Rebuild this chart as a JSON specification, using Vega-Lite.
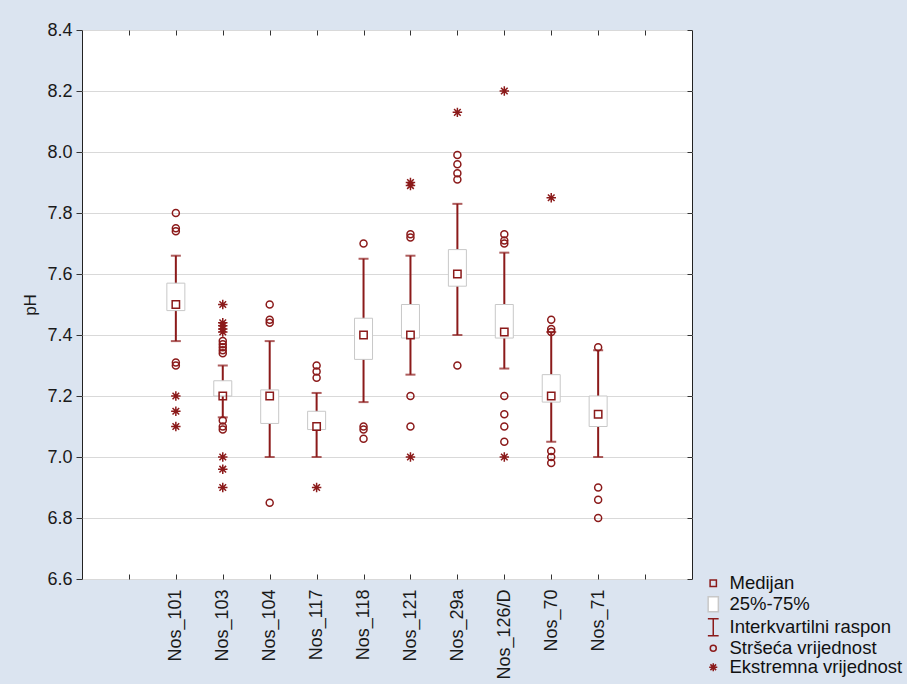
{
  "$schema": "https://vega.github.io/schema/vega-lite/v6.json",
  "autosize": {"type": "none"},
  "width": 610,
  "height": 549,
  "padding": {"left": 82, "top": 30, "right": 215, "bottom": 105},
  "background": "#dbe4f0",
  "config": {
    "view": {"stroke": "#222222", "strokeWidth": 1, "fill": "white"},
    "font": "Liberation Sans",
    "axis": {"labelFont": "Liberation Sans", "titleFont": "Liberation Sans", "labelColor": "#1a1a1a", "titleColor": "#1a1a1a", "tickColor": "#333333", "domain": false},
    "legend": {"orient": "none", "legendX": 622, "legendY": 544, "labelLimit": 0}
  },
  "datasets": {
    "stats": [
      {"site": "Nos_101", "lo": 7.38, "q1": 7.48, "med": 7.50, "q3": 7.57, "hi": 7.66},
      {"site": "Nos_103", "lo": 7.13, "q1": 7.20, "med": 7.20, "q3": 7.25, "hi": 7.30},
      {"site": "Nos_104", "lo": 7.00, "q1": 7.11, "med": 7.20, "q3": 7.22, "hi": 7.38},
      {"site": "Nos_117", "lo": 7.00, "q1": 7.09, "med": 7.10, "q3": 7.15, "hi": 7.21},
      {"site": "Nos_118", "lo": 7.18, "q1": 7.32, "med": 7.40, "q3": 7.455, "hi": 7.65},
      {"site": "Nos_121", "lo": 7.27, "q1": 7.39, "med": 7.40, "q3": 7.50, "hi": 7.66},
      {"site": "Nos_29a", "lo": 7.40, "q1": 7.56, "med": 7.60, "q3": 7.68, "hi": 7.83},
      {"site": "Nos_126/D", "lo": 7.29, "q1": 7.39, "med": 7.41, "q3": 7.50, "hi": 7.67},
      {"site": "Nos_70", "lo": 7.05, "q1": 7.18, "med": 7.20, "q3": 7.27, "hi": 7.41},
      {"site": "Nos_71", "lo": 7.00, "q1": 7.10, "med": 7.14, "q3": 7.20, "hi": 7.35}
    ],
    "pts": [
      {"site": "Nos_101", "v": 7.50, "kind": "Medijan"},
      {"site": "Nos_103", "v": 7.20, "kind": "Medijan"},
      {"site": "Nos_104", "v": 7.20, "kind": "Medijan"},
      {"site": "Nos_117", "v": 7.10, "kind": "Medijan"},
      {"site": "Nos_118", "v": 7.40, "kind": "Medijan"},
      {"site": "Nos_121", "v": 7.40, "kind": "Medijan"},
      {"site": "Nos_29a", "v": 7.60, "kind": "Medijan"},
      {"site": "Nos_126/D", "v": 7.41, "kind": "Medijan"},
      {"site": "Nos_70", "v": 7.20, "kind": "Medijan"},
      {"site": "Nos_71", "v": 7.14, "kind": "Medijan"},
      {"site": "Nos_101", "v": null, "kind": "25%-75%"},
      {"site": "Nos_101", "v": null, "kind": "Interkvartilni raspon"},
      {"site": "Nos_101", "v": 7.80, "kind": "Stršeća vrijednost"},
      {"site": "Nos_101", "v": 7.75, "kind": "Stršeća vrijednost"},
      {"site": "Nos_101", "v": 7.74, "kind": "Stršeća vrijednost"},
      {"site": "Nos_101", "v": 7.31, "kind": "Stršeća vrijednost"},
      {"site": "Nos_101", "v": 7.30, "kind": "Stršeća vrijednost"},
      {"site": "Nos_101", "v": 7.20, "kind": "Ekstremna vrijednost"},
      {"site": "Nos_101", "v": 7.15, "kind": "Ekstremna vrijednost"},
      {"site": "Nos_101", "v": 7.10, "kind": "Ekstremna vrijednost"},
      {"site": "Nos_103", "v": 7.38, "kind": "Stršeća vrijednost"},
      {"site": "Nos_103", "v": 7.37, "kind": "Stršeća vrijednost"},
      {"site": "Nos_103", "v": 7.36, "kind": "Stršeća vrijednost"},
      {"site": "Nos_103", "v": 7.35, "kind": "Stršeća vrijednost"},
      {"site": "Nos_103", "v": 7.34, "kind": "Stršeća vrijednost"},
      {"site": "Nos_103", "v": 7.12, "kind": "Stršeća vrijednost"},
      {"site": "Nos_103", "v": 7.10, "kind": "Stršeća vrijednost"},
      {"site": "Nos_103", "v": 7.09, "kind": "Stršeća vrijednost"},
      {"site": "Nos_103", "v": 7.50, "kind": "Ekstremna vrijednost"},
      {"site": "Nos_103", "v": 7.44, "kind": "Ekstremna vrijednost"},
      {"site": "Nos_103", "v": 7.43, "kind": "Ekstremna vrijednost"},
      {"site": "Nos_103", "v": 7.42, "kind": "Ekstremna vrijednost"},
      {"site": "Nos_103", "v": 7.41, "kind": "Ekstremna vrijednost"},
      {"site": "Nos_103", "v": 7.00, "kind": "Ekstremna vrijednost"},
      {"site": "Nos_103", "v": 6.96, "kind": "Ekstremna vrijednost"},
      {"site": "Nos_103", "v": 6.90, "kind": "Ekstremna vrijednost"},
      {"site": "Nos_104", "v": 7.50, "kind": "Stršeća vrijednost"},
      {"site": "Nos_104", "v": 7.45, "kind": "Stršeća vrijednost"},
      {"site": "Nos_104", "v": 7.44, "kind": "Stršeća vrijednost"},
      {"site": "Nos_104", "v": 6.85, "kind": "Stršeća vrijednost"},
      {"site": "Nos_117", "v": 7.30, "kind": "Stršeća vrijednost"},
      {"site": "Nos_117", "v": 7.28, "kind": "Stršeća vrijednost"},
      {"site": "Nos_117", "v": 7.26, "kind": "Stršeća vrijednost"},
      {"site": "Nos_117", "v": 6.90, "kind": "Ekstremna vrijednost"},
      {"site": "Nos_118", "v": 7.70, "kind": "Stršeća vrijednost"},
      {"site": "Nos_118", "v": 7.10, "kind": "Stršeća vrijednost"},
      {"site": "Nos_118", "v": 7.09, "kind": "Stršeća vrijednost"},
      {"site": "Nos_118", "v": 7.06, "kind": "Stršeća vrijednost"},
      {"site": "Nos_121", "v": 7.73, "kind": "Stršeća vrijednost"},
      {"site": "Nos_121", "v": 7.72, "kind": "Stršeća vrijednost"},
      {"site": "Nos_121", "v": 7.20, "kind": "Stršeća vrijednost"},
      {"site": "Nos_121", "v": 7.10, "kind": "Stršeća vrijednost"},
      {"site": "Nos_121", "v": 7.90, "kind": "Ekstremna vrijednost"},
      {"site": "Nos_121", "v": 7.89, "kind": "Ekstremna vrijednost"},
      {"site": "Nos_121", "v": 7.00, "kind": "Ekstremna vrijednost"},
      {"site": "Nos_29a", "v": 7.99, "kind": "Stršeća vrijednost"},
      {"site": "Nos_29a", "v": 7.96, "kind": "Stršeća vrijednost"},
      {"site": "Nos_29a", "v": 7.93, "kind": "Stršeća vrijednost"},
      {"site": "Nos_29a", "v": 7.91, "kind": "Stršeća vrijednost"},
      {"site": "Nos_29a", "v": 7.30, "kind": "Stršeća vrijednost"},
      {"site": "Nos_29a", "v": 8.13, "kind": "Ekstremna vrijednost"},
      {"site": "Nos_126/D", "v": 7.73, "kind": "Stršeća vrijednost"},
      {"site": "Nos_126/D", "v": 7.71, "kind": "Stršeća vrijednost"},
      {"site": "Nos_126/D", "v": 7.70, "kind": "Stršeća vrijednost"},
      {"site": "Nos_126/D", "v": 7.20, "kind": "Stršeća vrijednost"},
      {"site": "Nos_126/D", "v": 7.14, "kind": "Stršeća vrijednost"},
      {"site": "Nos_126/D", "v": 7.10, "kind": "Stršeća vrijednost"},
      {"site": "Nos_126/D", "v": 7.05, "kind": "Stršeća vrijednost"},
      {"site": "Nos_126/D", "v": 8.20, "kind": "Ekstremna vrijednost"},
      {"site": "Nos_126/D", "v": 7.00, "kind": "Ekstremna vrijednost"},
      {"site": "Nos_70", "v": 7.45, "kind": "Stršeća vrijednost"},
      {"site": "Nos_70", "v": 7.42, "kind": "Stršeća vrijednost"},
      {"site": "Nos_70", "v": 7.41, "kind": "Stršeća vrijednost"},
      {"site": "Nos_70", "v": 7.02, "kind": "Stršeća vrijednost"},
      {"site": "Nos_70", "v": 7.00, "kind": "Stršeća vrijednost"},
      {"site": "Nos_70", "v": 6.98, "kind": "Stršeća vrijednost"},
      {"site": "Nos_70", "v": 7.85, "kind": "Ekstremna vrijednost"},
      {"site": "Nos_71", "v": 7.36, "kind": "Stršeća vrijednost"},
      {"site": "Nos_71", "v": 6.90, "kind": "Stršeća vrijednost"},
      {"site": "Nos_71", "v": 6.86, "kind": "Stršeća vrijednost"},
      {"site": "Nos_71", "v": 6.80, "kind": "Stršeća vrijednost"}
    ]
  },
  "encoding": {
    "x": {
      "field": "site", "type": "nominal",
      "scale": {"type": "point", "padding": 1, "domain": ["_L", "Nos_101", "Nos_103", "Nos_104", "Nos_117", "Nos_118", "Nos_121", "Nos_29a", "Nos_126/D", "Nos_70", "Nos_71", "_R"]},
      "axis": null
    }
  },
  "resolve": {"axis": {"x": "independent", "y": "independent"}},
  "layer": [
    {
      "data": {"name": "stats"},
      "mark": {"type": "rule", "color": "#8b1a1a", "strokeWidth": 2},
      "encoding": {
        "x": {
          "field": "site", "type": "nominal",
          "scale": {"type": "point", "padding": 1, "domain": ["_L", "Nos_101", "Nos_103", "Nos_104", "Nos_117", "Nos_118", "Nos_121", "Nos_29a", "Nos_126/D", "Nos_70", "Nos_71", "_R"]},
          "axis": {"orient": "bottom", "title": null, "labelAngle": -90, "labelFontSize": 18, "tickSize": -5, "labelPadding": 15, "labelExpr": "datum.value == '_L' || datum.value == '_R' ? '' : datum.value", "grid": false}
        },
        "y": {
          "field": "lo", "type": "quantitative",
          "scale": {"domain": [6.6, 8.4], "nice": false, "zero": false},
          "axis": {"orient": "left", "title": "pH", "titleFontSize": 17, "titleFontWeight": "normal", "titlePadding": 7, "labelFontSize": 18, "tickSize": 6, "labelPadding": 4, "values": [6.6, 6.8, 7.0, 7.2, 7.4, 7.6, 7.8, 8.0, 8.2, 8.4], "format": ".1f", "grid": true, "gridColor": "#d9d9d9", "gridWidth": 1}
        },
        "y2": {"field": "hi"}
      }
    },
    {
      "data": {"name": "stats"},
      "mark": {"type": "tick", "color": "#8b1a1a", "size": 10, "thickness": 2},
      "encoding": {
        "x": {
          "field": "site", "type": "nominal",
          "scale": {"type": "point", "padding": 1, "domain": ["_L", "Nos_101", "Nos_103", "Nos_104", "Nos_117", "Nos_118", "Nos_121", "Nos_29a", "Nos_126/D", "Nos_70", "Nos_71", "_R"]},
          "axis": {"orient": "top", "title": null, "labels": false, "tickSize": -5, "grid": false}
        },
        "y": {
          "field": "hi", "type": "quantitative",
          "scale": {"domain": [6.6, 8.4], "nice": false, "zero": false},
          "axis": {"orient": "right", "title": null, "labels": false, "tickSize": -5, "values": [6.6, 6.8, 7.0, 7.2, 7.4, 7.6, 7.8, 8.0, 8.2, 8.4], "grid": false}
        }
      }
    },
    {
      "data": {"name": "stats"},
      "mark": {"type": "tick", "color": "#8b1a1a", "size": 10, "thickness": 2},
      "encoding": {
        "y": {
          "field": "lo", "type": "quantitative",
          "scale": {"domain": [6.6, 8.4], "nice": false, "zero": false},
          "axis": null
        }
      }
    },
    {
      "data": {"name": "stats"},
      "mark": {"type": "bar", "size": 18, "fill": "white", "stroke": "#c8c8c8", "strokeWidth": 1},
      "encoding": {
        "y": {
          "field": "q1", "type": "quantitative",
          "scale": {"domain": [6.6, 8.4], "nice": false, "zero": false},
          "axis": null
        },
        "y2": {"field": "q3"}
      }
    },
    {
      "data": {"name": "pts"},
      "mark": {"type": "point", "size": 49, "strokeWidth": 1.5, "opacity": 1},
      "encoding": {
        "y": {
          "field": "v", "type": "quantitative",
          "scale": {"domain": [6.6, 8.4], "nice": false, "zero": false},
          "axis": null
        },
        "shape": {
          "field": "kind", "type": "nominal",
          "scale": {
            "domain": ["Medijan", "25%-75%", "Interkvartilni raspon", "Stršeća vrijednost", "Ekstremna vrijednost"],
            "range": ["M-1.05,-1.05H1.05V1.05H-1.05Z", "M-1.7,-2.5H1.7V2.5H-1.7Z", "M-1.8,-2.8H1.8M0,-2.8V2.8M-1.8,2.8H1.8", "circle", "M-1.35,0H1.35M0,-1.35V1.35M-0.95,-0.95L0.95,0.95M-0.95,0.95L0.95,-0.95"]
          },
          "legend": {"title": null, "orient": "none", "legendX": 622, "legendY": 544, "labelFont": "Liberation Sans", "labelFontSize": 18.5, "labelColor": "#111111", "labelLimit": 0, "symbolSize": 36, "symbolStrokeWidth": 1.5, "rowPadding": 0, "labelOffset": 7}
        },
        "stroke": {
          "field": "kind", "type": "nominal",
          "scale": {
            "domain": ["Medijan", "25%-75%", "Interkvartilni raspon", "Stršeća vrijednost", "Ekstremna vrijednost"],
            "range": ["#8b1a1a", "#c8c8c8", "#8b1a1a", "#8b1a1a", "#8b1a1a"]
          },
          "legend": {"title": null}
        },
        "fill": {
          "field": "kind", "type": "nominal",
          "scale": {
            "domain": ["Medijan", "25%-75%", "Interkvartilni raspon", "Stršeća vrijednost", "Ekstremna vrijednost"],
            "range": ["transparent", "white", "transparent", "transparent", "transparent"]
          },
          "legend": {"title": null}
        }
      }
    }
  ]
}
